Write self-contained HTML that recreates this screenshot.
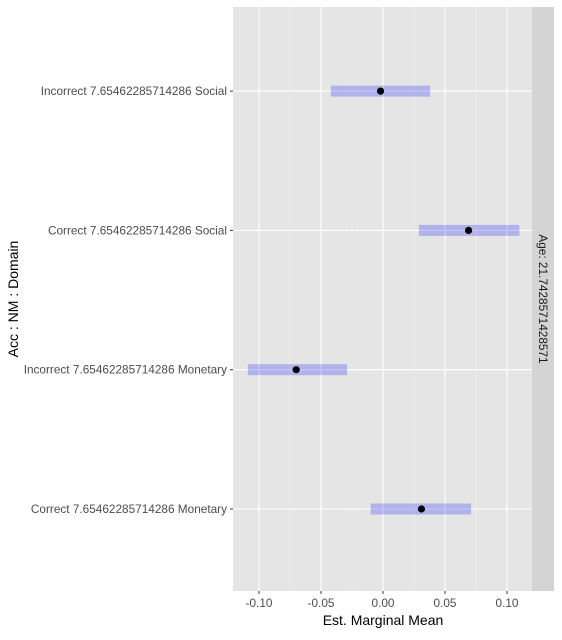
<!DOCTYPE html>
<html><head><meta charset="utf-8"><style>
body{margin:0;background:#fff;width:562px;height:635px;overflow:hidden}
svg text{font-family:"Liberation Sans",Arial,sans-serif}
</style></head><body>
<svg width="562" height="635" xmlns="http://www.w3.org/2000/svg">
<rect x="233" y="7" width="299" height="584" fill="#e5e5e5"/>
<g id="grid"></g>
<g id="marks"></g>
<g id="ylabels"></g>
<g id="xlabels"></g>
<rect x="532" y="7" width="22" height="584" fill="#d4d4d4"/>
<text x="539" y="299" transform="rotate(90 539 299)" text-anchor="middle" font-size="11.8" fill="#1a1a1a">Age: 21.7428571428571</text>
<text x="383" y="625" text-anchor="middle" font-size="14" fill="#000">Est. Marginal Mean</text>
<text x="18" y="299" transform="rotate(-90 18 299)" text-anchor="middle" font-size="14" fill="#000">Acc : NM : Domain</text>
</svg>
<script>
const categories=["Correct 7.65462285714286 Monetary","Incorrect 7.65462285714286 Monetary","Correct 7.65462285714286 Social","Incorrect 7.65462285714286 Social"];
const means=[0.031,-0.070,0.069,-0.002];
const lower=[-0.010,-0.109,0.029,-0.042];
const upper=[0.071,-0.029,0.110,0.038];
const xTicks=[-0.10,-0.05,0.00,0.05,0.10];
const xTickLabels=["-0.10","-0.05","0.00","0.05","0.10"];
const NS="http://www.w3.org/2000/svg";
function xs(v){return 383+v*1240;}
function ys(i){return 509-i*139.3;}
function mk(tag,attrs,parent,txt){const e=document.createElementNS(NS,tag);for(const k in attrs)e.setAttribute(k,attrs[k]);if(txt!==undefined)e.textContent=txt;document.getElementById(parent).appendChild(e);return e;}
for(let i=0;i<xTicks.length-1;i++){const m=xs((xTicks[i]+xTicks[i+1])/2);
const g=mk('line',{x1:m,x2:m,y1:7,y2:591,stroke:'#f2f2f2','stroke-width':0.6},'grid');

}
xTicks.forEach((t,i)=>{const x=xs(t);
const g=mk('line',{x1:x,x2:x,y1:7,y2:591,stroke:'#fff','stroke-width':1.1},'grid');


const tk=mk('line',{x1:x,x2:x,y1:591,y2:594,stroke:'#333'},'xlabels');


const l=mk('text',{x:x,y:607,'text-anchor':'middle','font-size':11.8,fill:'#4d4d4d'},'xlabels',xTickLabels[i]);

});
categories.forEach((c,i)=>{const y=ys(i);
const g=mk('line',{x1:233,x2:532,y1:y,y2:y,stroke:'#fff','stroke-width':1.1},'grid');


const tk=mk('line',{x1:230,x2:233,y1:y,y2:y,stroke:'#333'},'ylabels');


const l=mk('text',{x:227,y:y+4,'text-anchor':'end','font-size':11.8,fill:'#4d4d4d'},'ylabels',c);


const b=mk('rect',{x:xs(lower[i]),y:y-5.5,width:xs(upper[i])-xs(lower[i]),height:11,fill:'#0000ff','fill-opacity':0.22},'marks');


const p=mk('circle',{cx:xs(means[i]),cy:y,r:3.6,fill:'#000'},'marks');

});
</script>
</body></html>
